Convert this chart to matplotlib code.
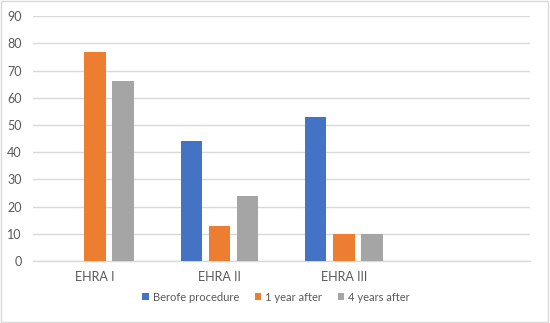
import matplotlib
matplotlib.use("Agg")
import matplotlib.pyplot as plt
from matplotlib.patches import Rectangle
import numpy as np

categories = ["EHRA I", "EHRA II", "EHRA III", ""]
series_names = ["Berofe procedure", "1 year after", "4 years after"]
before = [0, 44, 53, 0]
one_year = [77, 13, 10, 0]
four_years = [66, 24, 10, 0]
yticks = [0, 10, 20, 30, 40, 50, 60, 70, 80, 90]

colors = ["#4472C4", "#ED7D31", "#A5A5A5"]
plt.rcParams['font.family'] = ['Lato', 'DejaVu Sans']

fig = plt.figure(figsize=(5.5, 3.23), dpi=100)
ax = fig.add_axes([0.06, 0.192, 0.904, 0.758])

x = np.arange(len(categories))
w = 0.173
step = 0.226
for i, (vals, name) in enumerate(zip([before, one_year, four_years], series_names)):
    ax.bar(x + (i - 1) * step, vals, width=w, color=colors[i], label=name, zorder=3)

ax.set_xlim(-0.5, len(categories) - 0.5)
ax.set_ylim(0, 90)
ax.set_yticks(yticks)
ax.set_xticks(x)
ax.set_xticklabels(categories)
ax.tick_params(axis='both', length=0, colors="#595959", labelsize=9)
ax.tick_params(axis='y', pad=8)
ax.tick_params(axis='x', pad=7)
ax.grid(axis='y', color="#D9D9D9", linewidth=1, zorder=0)
for s in ["top", "right", "left"]:
    ax.spines[s].set_visible(False)
ax.spines["bottom"].set_color("#D9D9D9")
ax.spines["bottom"].set_linewidth(1)

leg = fig.legend(loc="center", bbox_to_anchor=(0.502, 0.08), ncol=3, frameon=False,
                 fontsize=8, handlelength=0.6, handleheight=0.6, handletextpad=0.35,
                 columnspacing=1.4)
for t in leg.get_texts():
    t.set_color("#595959")

fig.patches.append(Rectangle((0.002, 0.003), 0.995, 0.993, transform=fig.transFigure,
                             fill=False, edgecolor="#D9D9D9", linewidth=1))
fig.savefig("out.png", dpi=100)
